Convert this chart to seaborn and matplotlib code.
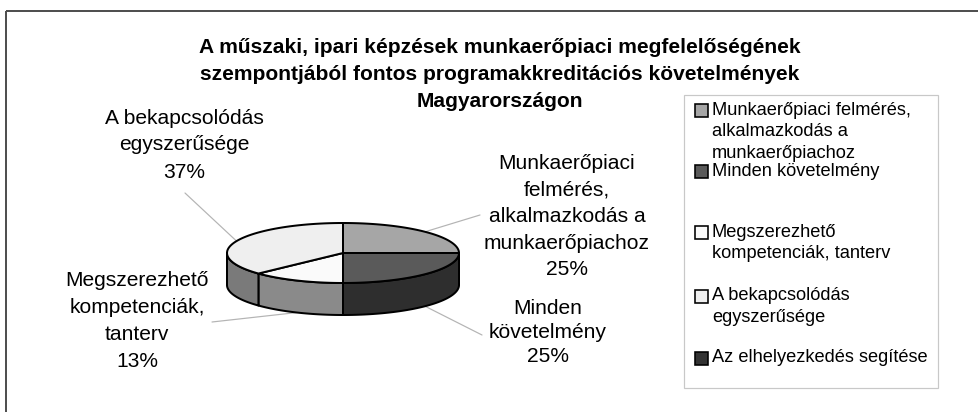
import numpy as np
import matplotlib
matplotlib.use("Agg")
import matplotlib.pyplot as plt
from matplotlib.patches import Polygon, Rectangle
import seaborn as sns

# ---- data -------------------------------------------------------------
categories = [
    "Munkaerőpiaci felmérés, alkalmazkodás a munkaerőpiachoz",
    "Minden követelmény",
    "Megszerezhető kompetenciák, tanterv",
    "A bekapcsolódás egyszerűsége",
    "Az elhelyezkedés segítése",
]
shares = [25, 25, 13, 37, 0]

slice_label_lines = [
    ["Munkaerőpiaci", "felmérés,", "alkalmazkodás a", "munkaerőpiachoz"],
    ["Minden", "követelmény"],
    ["Megszerezhető", "kompetenciák,", "tanterv"],
    ["A bekapcsolódás", "egyszerűsége"],
    ["Az elhelyezkedés", "segítése"],
]
legend_lines = [
    ["Munkaerőpiaci felmérés,", "alkalmazkodás a", "munkaerőpiachoz"],
    ["Minden követelmény"],
    ["Megszerezhető", "kompetenciák, tanterv"],
    ["A bekapcsolódás", "egyszerűsége"],
    ["Az elhelyezkedés segítése"],
]
title_lines = [
    "A műszaki, ipari képzések munkaerőpiaci megfelelőségének",
    "szempontjából fontos programakkreditációs követelmények",
    "Magyarországon",
]

# ---- styling ----------------------------------------------------------
top_colors = sns.color_palette(["#a6a6a6", "#5a5a5a", "#fafafa", "#efefef", "#333333"])
side_colors = sns.color_palette(["#7c7c7c", "#2e2e2e", "#8a8a8a", "#7a7a7a", "#222222"])

sns.set_style("white")
plt.rcParams["font.family"] = ["Liberation Sans", "DejaVu Sans"]

W, H = 979, 412
fig = plt.figure(figsize=(W / 100, H / 100), dpi=100)
ax = fig.add_axes([0, 0, 1, 1])
ax.set_xlim(0, W)
ax.set_ylim(H, 0)
ax.axis("off")

PX = 0.72  # points per pixel at 100 dpi

# chart frame (top and left edges)
ax.plot([6.5, W], [11, 11], color="#505050", lw=2 * PX, solid_capstyle="butt")
ax.plot([6.5, 6.5], [11, H], color="#505050", lw=2 * PX, solid_capstyle="butt")

# title
for i, line in enumerate(title_lines):
    ax.text(500, 47 + 27 * i, line, ha="center", va="center",
            fontsize=21 * PX, fontweight="bold", color="black")

# ---- 3D pie -----------------------------------------------------------
cx, cy, rx, ry, depth = 343, 253, 116, 30, 32
edge_lw = 2 * PX


def ellipse_pts(a0, a1, dy=0.0, n=60):
    t = np.radians(np.linspace(a0, a1, n))
    return np.column_stack([cx + rx * np.sin(t), cy - ry * np.cos(t) + dy])


total = float(sum(shares))
bounds = np.concatenate([[0.0], np.cumsum(shares) / total * 360.0])

# outer walls of the front half
for i, v in enumerate(shares):
    if v <= 0:
        continue
    a, b = max(bounds[i], 90.0), min(bounds[i + 1], 270.0)
    if a >= b:
        continue
    upper = ellipse_pts(a, b)
    lower = ellipse_pts(b, a, dy=depth)
    ax.add_patch(Polygon(np.vstack([upper, lower]), closed=True,
                         facecolor=side_colors[i], edgecolor="black",
                         lw=edge_lw, joinstyle="round", zorder=2))

# top faces
for i, v in enumerate(shares):
    if v <= 0:
        continue
    arc = ellipse_pts(bounds[i], bounds[i + 1])
    poly = np.vstack([[cx, cy], arc])
    ax.add_patch(Polygon(poly, closed=True, facecolor=top_colors[i],
                         edgecolor="black", lw=edge_lw, joinstyle="round",
                         zorder=3))

# ---- slice labels with leader lines -----------------------------------
label_pos = [  # (center x, first line y, line step, leader end x, leader end y)
    (567, 163, 26.7, 480, 215),
    (548, 309, 23.5, 482, 335),
    (137, 280, 27.3, 212, 322),
    (184, 118, 27.0, 185, 193),
]
for i, v in enumerate(shares):
    if v <= 0:
        continue
    lx, ly, step, ex, ey = label_pos[i]
    lines = slice_label_lines[i] + [f"{v}%"]
    for k, line in enumerate(lines):
        ax.text(lx, ly + step * k, line, ha="center", va="center",
                fontsize=21 * PX, color="black")
    mid = (bounds[i] + bounds[i + 1]) / 2.0
    front = 90.0 < mid < 270.0
    anchor = ellipse_pts(mid, mid, dy=depth if front else 0.0, n=1)[0]
    ax.plot([anchor[0], ex], [anchor[1], ey], color="#b4b4b4",
            lw=1.2 * PX, zorder=1)

# ---- legend -----------------------------------------------------------
ax.add_patch(Rectangle((684, 95), 938 - 684, 388 - 95, facecolor="white",
                       edgecolor="#c8c8c8", lw=1.2 * PX, zorder=1))
legend_first_y = [110, 171, 232, 296, 358]
legend_step = 21.5
for i, lines in enumerate(legend_lines):
    y0 = legend_first_y[i]
    ax.add_patch(Rectangle((695, y0 - 6.5), 13, 13, facecolor=top_colors[i],
                           edgecolor="black", lw=1.6 * PX, zorder=4))
    for k, line in enumerate(lines):
        ax.text(712, y0 + legend_step * k, line, ha="left", va="center",
                fontsize=18.3 * PX, color="black")

fig.savefig("out.png", dpi=100, facecolor="white")
